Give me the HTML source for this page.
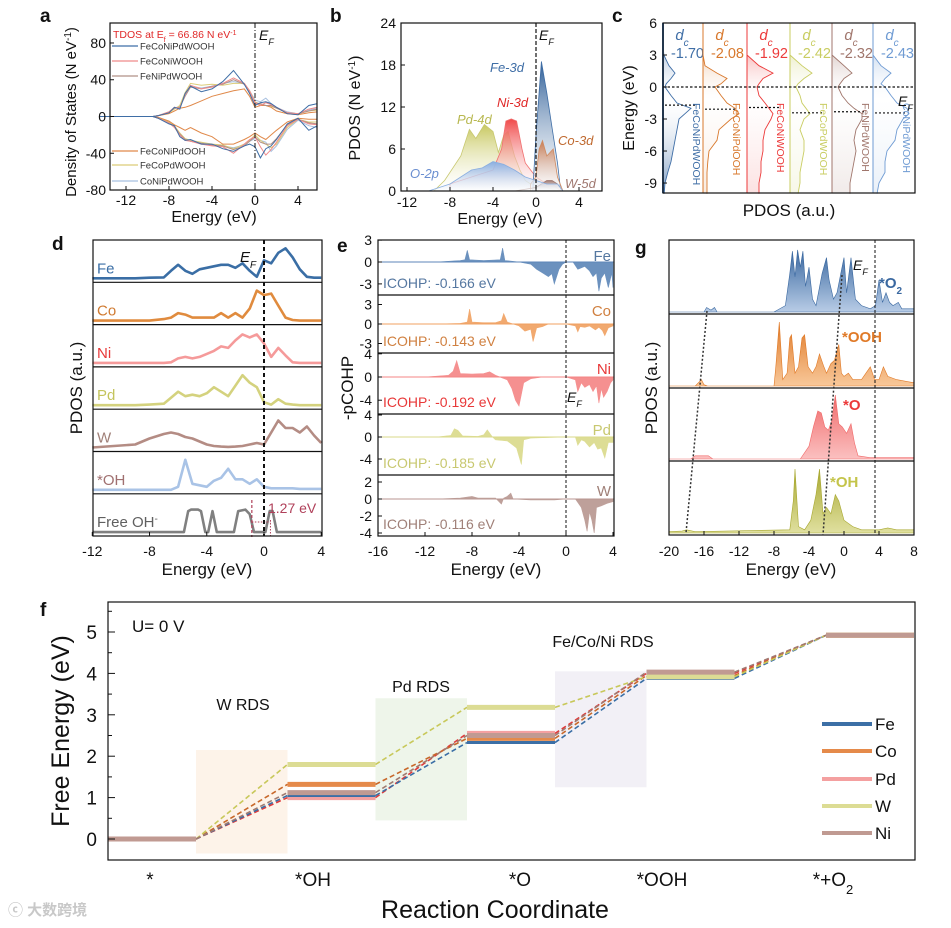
<!DOCTYPE html>
<html><head><meta charset="utf-8">
<style>
html,body{margin:0;padding:0;background:#fff;}
svg{display:block;font-family:"Liberation Sans","Noto Sans CJK SC",sans-serif;}
</style></head>
<body>
<svg id="fig" width="951" height="928" viewBox="0 0 951 928" xmlns="http://www.w3.org/2000/svg">
<defs id="defs"></defs>
</svg>
<script>
// ===== Panel f data =====
const fSteps = ["*", "*OH", "*O", "*OOH", "*+O2"];
const fSeries = ["Fe", "Co", "Pd", "W", "Ni"];
const fFe = [0, 1.05, 2.33, 3.88, 4.92];
const fCo = [0, 1.32, 2.43, 3.95, 4.92];
const fPd = [0, 1.00, 2.55, 4.00, 4.92];
const fW  = [0, 1.80, 3.18, 3.92, 4.92];
const fNi = [0, 1.12, 2.50, 4.03, 4.92];
const fTicks = [0, 1, 2, 3, 4, 5];
const fRDSLabels = ["W RDS", "Pd RDS", "Fe/Co/Ni RDS"];
const fRDSLow = [-0.35, 0.45, 1.25];
const fRDSHigh = [2.15, 3.4, 4.05];

// ===== Panel a data =====
const aE = [-14.5,-9.5,-9,-8,-7.5,-7,-6.5,-6,-5,-4,-3,-2,-1,-0.5,0,0.5,1,1.5,2,3,4,5,5.8];
const aNames = ["FeCoNiPdWOOH","FeCoNiWOOH","FeNiPdWOOH","FeCoNiPdOOH","FeCoPdWOOH","CoNiPdWOOH"];
const aUp0 = [0,0,1,4,10,8,25,33,27,30,38,50,35,25,12,15,16,14,10,3,2,12,14];
const aDn0 = [0,0,-2,-8,-10,-22,-26,-25,-30,-30,-35,-38,-32,-30,-33,-45,-35,-32,-25,-8,-2,-15,-10];
const aUp1 = [0,0,1,5,10,9,24,34,30,32,36,42,36,28,15,12,15,13,10,4,3,8,10];
const aDn1 = [0,0,-2,-7,-12,-20,-26,-27,-30,-32,-33,-40,-30,-25,-22,-33,-42,-36,-28,-10,-3,-8,-9];
const aUp2 = [0,0,1,5,9,10,22,32,30,33,35,40,35,27,15,14,12,12,9,4,3,6,8];
const aDn2 = [0,0,-2,-7,-11,-19,-25,-27,-29,-31,-32,-36,-32,-27,-22,-28,-30,-30,-24,-9,-3,-7,-8];
const aUp3 = [0,0,1,3,6,9,10,12,17,22,25,28,30,22,10,12,12,10,6,3,2,4,5];
const aDn3 = [0,0,-1,-5,-9,-12,-15,-12,-18,-22,-30,-30,-25,-22,-18,-22,-25,-20,-15,-6,-2,-3,-3];
const aUp4 = [0,0,1,4,8,12,26,36,34,35,34,36,36,28,16,13,12,11,9,4,3,6,7];
const aDn4 = [0,0,-2,-6,-10,-18,-24,-26,-28,-30,-31,-35,-30,-26,-20,-26,-30,-34,-30,-12,-3,-6,-6];
const aUp5 = [0,0,1,4,9,11,24,33,31,33,36,38,36,28,18,16,20,14,10,5,3,7,9];
const aDn5 = [0,0,-2,-6,-11,-20,-25,-27,-29,-31,-32,-34,-31,-27,-24,-26,-28,-38,-32,-14,-4,-10,-12];

// ===== Panel b data =====
const bFeE = [-0.3,0,0.5,1,1.5,2,2.3];
const bFeV = [0,8,18.5,14,9,4,0];
const bCoE = [-0.5,0,0.3,0.6,1,1.3,1.6,2,2.5];
const bCoV = [1,2,6,7.2,5,5.5,6,2,0];
const bNiE = [-8,-6,-4,-3.2,-2.8,-2.3,-1.8,-1.3,-1,-0.5,0,0.5,1,1.5,2.3];
const bNiV = [1,2,3,6,10,10.3,10,6,4,3,2,1.5,1,1,0];
const bPdE = [-9.5,-8.5,-7,-6.2,-5.6,-4.8,-4,-3.5,-3,-2.6,-2,-1.5,-1,-0.5,0,1,2];
const bPdV = [0,1.5,5,8.8,7.5,9.5,8.5,5.5,8,8.5,5,3,1.5,1,1,0.5,0];
const bOE = [-10,-8,-6,-5,-4,-3,-2,-1,0,1,2,2.5];
const bOV = [0,1,3,3.3,4.2,3.8,3,2,1.5,1,1,0];
const bWE = [-2,0,0.5,1,1.5,2,2.5];
const bWV = [0,0.5,1,1.5,1.5,1,0];

// ===== Panel c data =====
const cE = [6,4,3,2,1.3,0.8,0.3,0,-0.8,-1.5,-2,-2.5,-3,-4,-5,-6,-7,-8,-9,-10];
const cNames = ["FeCoNiPdWOOH","FeCoNiPdOOH","FeCoNiWOOH","FeCoPdWOOH","FeNiPdWOOH","CoNiPdWOOH"];
const cDc = [-1.70,-2.08,-1.92,-2.42,-2.32,-2.43];
const cV0 = [0,0,0.02,0.15,0.3,0.2,0.08,0.05,0.2,0.35,0.7,0.55,0.4,0.35,0.3,0.25,0.2,0.12,0.05,0.03];
const cV1 = [0,0,0,0.05,0.35,0.6,0.45,0.3,0.45,0.6,0.8,0.9,0.7,0.4,0.35,0.15,0.12,0.1,0.1,0.1];
const cV2 = [0,0,0,0.3,0.65,0.4,0.3,0.25,0.3,0.45,0.55,0.65,0.6,0.45,0.4,0.4,0.35,0.35,0.3,0.3];
const cV3 = [0,0,0,0.3,0.55,0.35,0.2,0.15,0.25,0.3,0.4,0.5,0.35,0.25,0.35,0.35,0.3,0.25,0.25,0.2];
const cV4 = [0,0,0,0.3,0.5,0.3,0.2,0.15,0.25,0.4,0.55,0.75,0.75,0.6,0.55,0.6,0.55,0.5,0.45,0.45];
const cV5 = [0,0,0,0.2,0.45,0.3,0.2,0.3,0.45,0.6,0.85,0.9,0.75,0.6,0.55,0.35,0.3,0.3,0.15,0.1];

// ===== Panel d data =====
const dE = [-12,-9,-8,-7,-6.5,-6,-5.5,-5,-4.5,-4,-3.5,-3,-2.5,-2,-1.5,-1,-0.5,0,0.5,1,1.5,2,2.5,3,3.5,4];
const dNames = ["Fe","Co","Ni","Pd","W","*OH"];
const dFe = [0,0,0.02,0.03,0.25,0.45,0.25,0.15,0.3,0.35,0.4,0.45,0.45,0.35,0.5,0.25,0.05,0.6,0.5,0.85,1.0,0.7,0.3,0.05,0.02,0.02];
const dCo = [0,0,0,0.05,0.1,0.25,0.2,0.1,0.1,0.1,0.1,0.25,0.1,0.25,0.1,0.4,1.0,0.85,0.9,0.5,0.1,0.02,0,0,0,0];
const dNi = [0,0,0,0,0.02,0.15,0.2,0.15,0.2,0.3,0.4,0.55,0.5,0.75,0.95,0.85,0.95,0.65,0.2,0.5,0.25,0.02,0,0,0,0];
const dPd = [0,0,0.02,0.05,0.25,0.45,0.3,0.35,0.3,0.4,0.6,0.45,0.3,0.65,1.0,0.75,0.6,0.1,0.02,0.2,0.05,0.02,0,0,0,0];
const dW  = [0,0.1,0.3,0.45,0.5,0.45,0.35,0.3,0.2,0.1,0.05,0.03,0.02,0.03,0.05,0.1,0.15,0.1,0.5,0.9,0.65,0.65,0.5,0.7,0.4,0.15];
const dOH = [0,0,0,0,0,0.1,1.0,0.2,0.15,0.1,0.3,0.4,0.7,0.35,0.35,0.2,0.35,0.1,0.05,0.05,0.05,0.05,0.03,0.03,0.03,0.03];
const dFreeE = [-12,-5.6,-5.3,-5.1,-4.6,-4.4,-4.1,-3.9,-3.6,-3.3,-3,-2.1,-1.8,-1.3,-1,-0.7,0.1,0.4,0.6,0.9,4];
const dFreeV = [0,0,0.7,0.75,0.75,0.7,0,0,0.7,0,0,0,0.7,0.75,0.6,0,0,0.7,0.7,0,0];

// ===== Panel e data =====
const eNames = ["Fe","Co","Ni","Pd","W"];
const eIcohp = ["-0.166","-0.143","-0.192","-0.185","-0.116"];
const eFeE = [-16,-11,-9,-8.6,-8.4,-8.2,-7,-5.6,-5.4,-5.2,-4,-3,-2.5,-2,-1.5,-1.2,-1,-0.6,-0.3,0,0.6,1,1.3,1.6,2,2.3,2.6,2.8,3,3.3,3.6,3.9,4];
const eFeV = [0,0,0.2,0.3,1.6,0.3,0.2,0.3,1.9,0.2,0,-0.3,-1,-1.5,-2,-1.6,-3,-1,-0.3,0,0,-1,-0.8,-0.6,-1.2,-2,-1.5,-4,-2.2,-1.5,-3.5,-1.5,-3.5];
const eCoE = [-16,-11,-9,-8.4,-8.2,-8,-7,-6,-5.5,-5.3,-5,-4.5,-4,-3.5,-3,-2.8,-2.5,-2,-1.5,0,0.8,1,1.2,1.6,2,2.5,2.8,3.1,3.3,3.6,4];
const eCoV = [0,0,0.1,0.3,2.3,0.3,0.2,0.2,0.5,1.6,0.3,0,-0.3,-1.1,-0.8,-2.7,-0.6,-0.4,0,0,-0.3,-1.2,-0.4,-0.5,-0.3,-0.9,-0.5,-1,-1.8,-0.6,-0.3];
const eNiE = [-16,-12,-10,-9.6,-9.3,-9,-8,-7,-6.5,-6,-5,-4.6,-4.3,-4,-3.6,-3,-2,0,0.8,1,1.3,1.6,2,2.3,2.6,2.8,3,3.2,3.5,3.8,4];
const eNiV = [0,0,0.3,1,2.8,0.6,0.5,0.6,0.9,0.3,-0.5,-2,-4,-5,-1,-0.3,0,0,-0.5,-2.5,-1,-1.8,-1.3,-2.5,-1.5,-4.5,-2,-3.5,-2.5,-1,-0.5];
const ePdE = [-16,-11,-9.8,-9.5,-9.2,-8.8,-7.5,-7,-6.7,-6.3,-6,-5,-4.5,-4.2,-4,-3.8,-3.6,-3,0,0.8,1,1.3,1.6,2,2.4,2.7,3,3.3,3.6,4];
const ePdV = [0,0,0.3,1.5,1.2,0.2,0.1,0.4,1.3,0.1,-0.5,-0.7,-1.5,-2,-3.5,-5,-0.5,-0.2,0,0,-1.5,-0.5,-0.8,-1.8,-1,-2.2,-2,-3.8,-1,-1];
const eWE = [-16,-11,-9,-8,-7.5,-6,-5.5,-5.3,-5,-4.7,-4.5,-3,-1,0,0.8,1.3,1.6,1.8,2,2.2,2.4,2.6,3,3.5,4];
const eWV = [0,0,0.1,0.3,0.1,0.1,-0.6,0.1,0.3,0.7,0,-0.1,-0.1,0,0,-1,-2.5,-3.8,-1.5,-2.5,-4,-1,-0.8,-0.5,-0.3];
const eTicksFe = [3,0,-3];
const eTicksCo = [3,0,-3];
const eTicksNi = [4,0,-4];
const eTicksPd = [4,0,-4];
const eTicksW = [2,0,-2,-4];

// ===== Panel g data =====
const gO2E = [-20,-16,-15.7,-15.2,-14.8,-14.5,-8,-6.7,-6.2,-5.9,-5.6,-5.3,-5,-4.7,-4.4,-4,-3.6,-3.2,-2.5,-2,-1.7,-1.2,-0.8,-0.3,0,0.3,0.8,1.3,2,3,3.6,4,4.4,4.8,5.2,5.6,6.2,6.6,7,8];
const gO2V = [0,0,0.07,0.03,0.07,0,0,0.1,0.6,0.95,0.55,0.97,0.7,0.95,0.4,0.7,0.2,0.1,0.6,0.85,0.5,0.2,0.3,0.65,0.85,0.3,0.85,0.2,0.1,0.05,0.1,0.5,0.15,0.3,0.15,0.1,0.15,0.05,0.05,0.05];
const gOOHE = [-20,-17,-16.3,-16,-15.6,-8,-7.8,-7.4,-7,-6.5,-6.2,-6,-5.6,-5.2,-4.8,-4.5,-4.1,-3.6,-3.2,-2.8,-2.3,-2,-1.5,-1.1,-0.6,-0.3,0,0.5,1,1.5,2,3,3.5,4,4.5,5,6,8];
const gOOHV = [0,0,0.1,0.02,0,0,0.3,1.0,0.1,0.2,0.75,0.8,0.2,0.3,0.75,0.8,0.3,0.2,0.3,0.5,0.3,0.2,0.35,0.4,0.65,0.2,0.15,0.2,0.1,0.1,0.1,0.3,0.1,0.1,0.3,0.15,0.1,0.05];
const gOE = [-20,-17.5,-17,-15.5,-15,-5,-4,-3.5,-3,-2.6,-2.2,-1.8,-1.4,-1,-0.6,-0.2,0.3,0.8,1.2,1.6,3,8];
const gOV = [0,0,0.05,0.05,0,0,0.2,0.5,0.75,0.72,0.5,0.45,0.6,1.0,0.55,0.5,0.4,0.55,0.25,0.05,0.02,0.02];
const gOHE = [-20,-18.5,-18,-17,-6.2,-5.8,-5.6,-5.2,-4.5,-3.8,-3.2,-2.8,-2.4,-2,-1.5,-1,-0.6,0,1,2,4,5,6,8];
const gOHV = [0.02,0.03,0.05,0.02,0.05,0.5,1.0,0.1,0.05,0.2,0.6,1.0,0.3,0.4,0.3,0.6,0.5,0.2,0.1,0.05,0.05,0.08,0.05,0.05];

// ===== helpers =====
const NS = "http://www.w3.org/2000/svg";
const svg = document.getElementById("fig");
const defs = document.getElementById("defs");
function mk(tag, attrs, name, parent) {
  const el = document.createElementNS(NS, tag);
  for (const k in attrs) el.setAttribute(k, attrs[k]);
  
  
  (parent || svg).appendChild(el);
  return el;
}
function txt(x, y, s, attrs, name) {
  const a = Object.assign({x: x, y: y, "font-size": 14, fill: "#111"}, attrs || {});
  const el = mk("text", a, name);
  el.textContent = s;
  return el;
}
function grad(id, c1, c2, o2, vertical) {
  const g = document.createElementNS(NS, "linearGradient");
  g.setAttribute("id", id);
  g.setAttribute("x1", "0"); g.setAttribute("y1", "0");
  g.setAttribute("x2", vertical ? "0" : "1"); g.setAttribute("y2", vertical ? "1" : "0");
  const s1 = document.createElementNS(NS, "stop"); s1.setAttribute("offset", "0"); s1.setAttribute("stop-color", c1);
  const s2 = document.createElementNS(NS, "stop"); s2.setAttribute("offset", "1"); s2.setAttribute("stop-color", c2); s2.setAttribute("stop-opacity", o2);
  g.appendChild(s1); g.appendChild(s2); defs.appendChild(g);
}
function pts(xs, ys, xf, yf) { return xs.map((e, i) => xf(e).toFixed(1) + "," + yf(ys[i]).toFixed(1)); }
function linePath(xs, ys, xf, yf) { return "M" + pts(xs, ys, xf, yf).join(" L"); }
function areaPath(xs, ys, xf, yf, y0) {
  return "M" + xf(xs[0]).toFixed(1) + "," + y0 + " L" + pts(xs, ys, xf, yf).join(" L") + " L" + xf(xs[xs.length-1]).toFixed(1) + "," + y0 + " Z";
}
function frame(x1, y1, x2, y2, name) {
  mk("rect", {x: x1, y: y1, width: x2-x1, height: y2-y1, fill: "none", stroke: "#111", "stroke-width": 1.2}, name);
}
function sub(el, s, shift, size) {
  const t = document.createElementNS(NS, "tspan");
  t.setAttribute("baseline-shift", shift); t.setAttribute("font-size", size); t.textContent = s; el.appendChild(t);
}

// ===== PANEL A =====
(function(){
  const xA = e => 255 + e*10.75;
  const yA = v => 116.5 - v*0.919;
  txt(40, 22, "a", {"font-size": 19, "font-weight": "bold"}, "panel-a-label");
  const cols = ["#3f6ea6", "#ef8b8b", "#b09088", "#e0894a", "#dccc78", "#a8c0e0"];
  const ups = [aUp0, aUp1, aUp2, aUp3, aUp4, aUp5];
  const dns = [aDn0, aDn1, aDn2, aDn3, aDn4, aDn5];
  for (let i = 5; i >= 0; i--) {
    mk("path", {d: linePath(aE, ups[i], xA, yA), fill: "none", stroke: cols[i], "stroke-width": 1}, "tdos-up-" + aNames[i].toLowerCase());
    mk("path", {d: linePath(aE, dns[i], xA, yA), fill: "none", stroke: cols[i], "stroke-width": 1}, "tdos-down-" + aNames[i].toLowerCase());
  }
  mk("line", {x1: xA(0), y1: 23, x2: xA(0), y2: 190, stroke: "#111", "stroke-dasharray": "5,2,1,2", "stroke-width": 1}, "fermi-line-a");
  frame(110, 23, 317, 190, "panel-a-frame");
  [-80,-40,0,40,80].forEach(v => {
    mk("line", {x1: 110, y1: yA(v), x2: 114, y2: yA(v), stroke: "#111"}, "y-tick-a");
    txt(106, yA(v)+5, String(v), {"font-size": 14, "text-anchor": "end"}, "y-tick-label-a");
  });
  [-12,-8,-4,0,4].forEach(v => {
    mk("line", {x1: xA(v), y1: 190, x2: xA(v), y2: 186, stroke: "#111"}, "x-tick-a");
    txt(xA(v), 205, String(v), {"font-size": 14, "text-anchor": "middle"}, "x-tick-label-a");
  });
  const yt = txt(0, 0, "Density of States (N eV", {"font-size": 15, "text-anchor": "middle", transform: "translate(76,112) rotate(-90)"}, "y-axis-title-a");
  sub(yt, "-1", "super", 10); const t2 = document.createElementNS(NS, "tspan"); t2.textContent = ")"; yt.appendChild(t2);
  txt(214, 222, "Energy (eV)", {"font-size": 16, "text-anchor": "middle"}, "x-axis-title-a");
  const tt = txt(113, 38, "TDOS at E", {"font-size": 10.5, fill: "#e02828"}, "tdos-annotation");
  sub(tt, "f", "sub", 7); const t3 = document.createElementNS(NS, "tspan"); t3.textContent = " = 66.86 N eV"; tt.appendChild(t3); sub(tt, "-1", "super", 7);
  const ef = txt(259, 40, "E", {"font-size": 14, "font-style": "italic"}, "fermi-label-a"); sub(ef, "F", "sub", 9);
  const ly = [46, 61, 76, 151, 165, 181];
  const lorder = [0, 1, 2, 3, 4, 5];
  lorder.forEach((i, k) => {
    mk("line", {x1: 112, y1: ly[k], x2: 138, y2: ly[k], stroke: cols[i], "stroke-width": 1.2}, "legend-line-a");
    txt(140, ly[k]+3.5, aNames[i], {"font-size": 9.5, fill: "#333"}, "legend-entry-a");
  });
})();

// ===== PANEL B =====
(function(){
  const xB = e => 536 + e*10.75;
  const yB = v => 191 - v*7.0;
  txt(330, 22, "b", {"font-size": 19, "font-weight": "bold"}, "panel-b-label");
  grad("gPd", "#c8c860", "#ffffff", 0.3, true);
  grad("gNi", "#f04848", "#ffffff", 0.3, true);
  grad("gFe", "#2f5f98", "#ffffff", 0.5, true);
  grad("gCo", "#c87a50", "#ffffff", 0.3, true);
  grad("gW", "#a07870", "#ffffff", 0.5, true);
  grad("gO", "#8aaee0", "#ffffff", 0.6, true);
  const series = [[bPdE,bPdV,"gPd","#c8c870","pdos-pd-4d"],[bNiE,bNiV,"gNi","#f07070","pdos-ni-3d"],[bFeE,bFeV,"gFe","#3f6ea6","pdos-fe-3d"],[bCoE,bCoV,"gCo","#d08a60","pdos-co-3d"],[bWE,bWV,"gW","#a07870","pdos-w-5d"],[bOE,bOV,"gO","#8aaee0","pdos-o-2p"]];
  series.forEach(s => {
    mk("path", {d: areaPath(s[0], s[1], xB, yB, 191), fill: "url(#" + s[2] + ")", stroke: s[3], "stroke-width": 0.8}, s[4]);
  });
  mk("line", {x1: xB(0), y1: 23, x2: xB(0), y2: 191, stroke: "#111", "stroke-dasharray": "4,2", "stroke-width": 1.2}, "fermi-line-b");
  frame(401, 23, 602, 191, "panel-b-frame");
  [0,6,12,18,24].forEach(v => {
    mk("line", {x1: 401, y1: yB(v), x2: 405, y2: yB(v), stroke: "#111"}, "y-tick-b");
    txt(396, yB(v)+5, String(v), {"font-size": 14, "text-anchor": "end"}, "y-tick-label-b");
  });
  [-12,-8,-4,0,4].forEach(v => {
    mk("line", {x1: xB(v), y1: 191, x2: xB(v), y2: 187, stroke: "#111"}, "x-tick-b");
    txt(xB(v), 207, String(v), {"font-size": 14, "text-anchor": "middle"}, "x-tick-label-b");
  });
  const yt = txt(0, 0, "PDOS (N eV", {"font-size": 16, "text-anchor": "middle", transform: "translate(360,108) rotate(-90)"}, "y-axis-title-b");
  sub(yt, "-1", "super", 10); const t2 = document.createElementNS(NS, "tspan"); t2.textContent = ")"; yt.appendChild(t2);
  txt(500, 224, "Energy (eV)", {"font-size": 16, "text-anchor": "middle"}, "x-axis-title-b");
  const ef = txt(539, 40, "E", {"font-size": 14, "font-style": "italic"}, "fermi-label-b"); sub(ef, "F", "sub", 9);
  txt(490, 72, "Fe-3d", {"font-size": 13, "font-style": "italic", fill: "#3f6ea6"}, "fe-3d-label");
  txt(497, 107, "Ni-3d", {"font-size": 13, "font-style": "italic", fill: "#e02828"}, "ni-3d-label");
  txt(457, 124, "Pd-4d", {"font-size": 13, "font-style": "italic", fill: "#b8b850"}, "pd-4d-label");
  txt(410, 178, "O-2p", {"font-size": 13, "font-style": "italic", fill: "#6a8ed0"}, "o-2p-label");
  txt(558, 145, "Co-3d", {"font-size": 13, "font-style": "italic", fill: "#c06a30"}, "co-3d-label");
  txt(565, 188, "W-5d", {"font-size": 13, "font-style": "italic", fill: "#a07870"}, "w-5d-label");
})();

// ===== PANEL C =====
(function(){
  const yC = e => 87 - e*10.67;
  const left = [663, 703, 747, 790, 832, 873];
  const cols = ["#3f6ea6", "#d8782c", "#ec3a3a", "#c9cd62", "#a0766c", "#6f9bd3"];
  const vals = [cV0, cV1, cV2, cV3, cV4, cV5];
  txt(612, 22, "c", {"font-size": 19, "font-weight": "bold"}, "panel-c-label");
  left.forEach((L, k) => {
    const xC = v => L + v*40;
    grad("gc" + k, cols[k], "#ffffff", 0, true);
    const g = defs.lastChild; const st = document.createElementNS(NS, "stop");
    st.setAttribute("offset", "0.45"); st.setAttribute("stop-color", "#ffffff"); st.setAttribute("stop-opacity", "0.1");
    g.insertBefore(st, g.lastChild);
    g.firstChild.setAttribute("stop-opacity", "0.85");
    g.lastChild.setAttribute("stop-color", cols[k]); g.lastChild.setAttribute("stop-opacity", k === 0 ? "0.7" : "0.15");
    const pathD = "M" + L + "," + yC(6) + " L" + cE.map((e, i) => xC(vals[k][i]).toFixed(1) + "," + yC(e).toFixed(1)).join(" L") + " L" + L + "," + yC(-10) + " Z";
    mk("path", {d: pathD, fill: "url(#gc" + k + ")", stroke: "none"}, "dos-fill-" + cNames[k].toLowerCase());
    mk("path", {d: "M" + cE.map((e, i) => xC(vals[k][i]).toFixed(1) + "," + yC(e).toFixed(1)).join(" L"), fill: "none", stroke: cols[k], "stroke-width": 0.9}, "dos-curve-" + cNames[k].toLowerCase());
    mk("line", {x1: L, y1: 23, x2: L, y2: 193, stroke: cols[k], "stroke-width": k === 0 ? 2 : 1}, "column-divider");
    mk("line", {x1: L+2, y1: yC(cDc[k]), x2: L+34, y2: yC(cDc[k]), stroke: "#111", "stroke-dasharray": "2,2", "stroke-width": 1.2}, "d-band-center-line");
    const dc = txt(L+19, 40, "d", {"font-size": 15, "font-style": "italic", fill: cols[k], "text-anchor": "middle"}, "d-band-center-symbol");
    sub(dc, "c", "sub", 10);
    txt(L+41, 58, cDc[k].toFixed(2), {"font-size": 14.5, fill: cols[k], "text-anchor": "end"}, "d-band-center-value");
    txt(0, 0, cNames[k], {"font-size": 10.5, fill: cols[k], transform: "translate(" + (L+30) + ",103) rotate(90)"}, "column-label");
  });
  mk("line", {x1: 663, y1: yC(0), x2: 915, y2: yC(0), stroke: "#111", "stroke-dasharray": "2.5,2", "stroke-width": 1.2}, "fermi-line-c");
  frame(663, 23, 915, 193, "panel-c-frame");
  [6,3,0,-3,-6,-9].forEach(v => {
    mk("line", {x1: 663, y1: yC(v), x2: 667, y2: yC(v), stroke: "#111"}, "y-tick-c");
    txt(657, yC(v)+5, String(v), {"font-size": 14, "text-anchor": "end"}, "y-tick-label-c");
  });
  txt(0, 0, "Energy (eV)", {"font-size": 16, "text-anchor": "middle", transform: "translate(634,108) rotate(-90)"}, "y-axis-title-c");
  txt(789, 216, "PDOS (a.u.)", {"font-size": 17, "text-anchor": "middle"}, "x-axis-title-c");
  const ef = txt(898, 106, "E", {"font-size": 14, "font-style": "italic"}, "fermi-label-c"); sub(ef, "F", "sub", 9);
})();

// ===== PANEL D =====
(function(){
  const xD = e => 264 + e*14.31;
  const rowH = 42.3;
  const vals = [dFe, dCo, dNi, dPd, dW, dOH];
  const cols = ["#3a6ea5", "#e08b3e", "#f59a9a", "#d4d27e", "#b48c84", "#a9c3e6"];
  const tcols = ["#3a6ea5", "#d07a30", "#e83838", "#c4c45c", "#a08078", "#a07070"];
  txt(52, 250, "d", {"font-size": 19, "font-weight": "bold"}, "panel-d-label");
  for (let r = 0; r < 6; r++) {
    const top = 240 + r*rowH, base = top + rowH - 4;
    const yD = v => base - v*30;
    mk("path", {d: linePath(dE, vals[r], xD, yD), fill: "none", stroke: cols[r], "stroke-width": 2.6, "stroke-linejoin": "round"}, "pdos-curve-" + dNames[r].toLowerCase().replace("*", "star-"));
    txt(97, top + rowH - 9, dNames[r], {"font-size": 15, fill: tcols[r]}, "row-label-d");
    if (r > 0) mk("line", {x1: 93, y1: top, x2: 322, y2: top, stroke: "#111", "stroke-width": 1.2}, "row-divider-d");
  }
  const topF = 240 + 6*rowH, baseF = topF + rowH - 4;
  const yF = v => baseF - v*30;
  mk("path", {d: linePath(dFreeE, dFreeV, xD, yF), fill: "none", stroke: "#808080", "stroke-width": 2.6, "stroke-linejoin": "round"}, "pdos-curve-free-oh");
  mk("line", {x1: 93, y1: topF, x2: 322, y2: topF, stroke: "#111", "stroke-width": 1.2}, "row-divider-d");
  const fo = txt(97, topF + rowH - 9, "Free OH", {"font-size": 15, fill: "#606060"}, "row-label-d"); sub(fo, "-", "super", 10);
  mk("line", {x1: xD(-0.85), y1: 500, x2: xD(-0.85), y2: 537, stroke: "#b0405a", "stroke-dasharray": "3,2", "stroke-width": 1.2}, "homo-line-oh");
  mk("line", {x1: xD(0.45), y1: 520, x2: xD(0.45), y2: 537, stroke: "#b0405a", "stroke-dasharray": "1.5,1.5", "stroke-width": 1}, "homo-line-free-oh");
  mk("line", {x1: xD(-0.85), y1: 522, x2: xD(0.45), y2: 522, stroke: "#b0405a", "stroke-dasharray": "1.5,1.5", "stroke-width": 1}, "shift-arrow");
  txt(268, 513, "1.27 eV", {"font-size": 14, fill: "#b0405a"}, "shift-label");
  mk("line", {x1: xD(0), y1: 240, x2: xD(0), y2: 536, stroke: "#111", "stroke-dasharray": "4,3", "stroke-width": 2}, "fermi-line-d");
  const ef = txt(240, 262, "E", {"font-size": 15, "font-style": "italic"}, "fermi-label-d"); sub(ef, "F", "sub", 10);
  frame(93, 240, 322, 536, "panel-d-frame");
  [-12,-8,-4,0,4].forEach(v => {
    txt(xD(v), 556, String(v), {"font-size": 14, "text-anchor": "middle"}, "x-tick-label-d");
    mk("line", {x1: xD(v), y1: 536, x2: xD(v), y2: 532, stroke: "#111"}, "x-tick-d");
  });
  txt(207, 575, "Energy (eV)", {"font-size": 17, "text-anchor": "middle"}, "x-axis-title-d");
  txt(0, 0, "PDOS (a.u.)", {"font-size": 17, "text-anchor": "middle", transform: "translate(82,388) rotate(-90)"}, "y-axis-title-d");
})();

// ===== PANEL E =====
(function(){
  const xE = e => 566 + e*11.75;
  const bounds = [240, 295, 353, 414, 475, 536];
  const zeros = [262, 324, 377, 437, 499];
  const scl = [7.3, 6.5, 5.8, 5.5, 8.5];
  const Es = [eFeE, eCoE, eNiE, ePdE, eWE];
  const Vs = [eFeV, eCoV, eNiV, ePdV, eWV];
  const ticks = [eTicksFe, eTicksCo, eTicksNi, eTicksPd, eTicksW];
  const fills = ["#5c86b8", "#f0a060", "#f48484", "#dada8a", "#b89690"];
  const tcols = ["#5577a0", "#d08040", "#e83838", "#c8c870", "#a08078"];
  txt(337, 252, "e", {"font-size": 19, "font-weight": "bold"}, "panel-e-label");
  for (let r = 0; r < 5; r++) {
    const y0 = zeros[r];
    const yE = v => y0 - v*scl[r];
    mk("path", {d: areaPath(Es[r], Vs[r], xE, yE, y0), fill: fills[r], stroke: fills[r], "stroke-width": 0.6, opacity: 0.9}, "cohp-area-" + eNames[r].toLowerCase());
    mk("line", {x1: 378, y1: y0, x2: 614, y2: y0, stroke: fills[r], "stroke-width": 1}, "zero-line-e");
    ticks[r].forEach(t => {
      txt(372, yE(t)+5, String(t), {"font-size": 14, "text-anchor": "end"}, "y-tick-label-e");
      mk("line", {x1: 378, y1: yE(t), x2: 382, y2: yE(t), stroke: "#111"}, "y-tick-e");
    });
    txt(611, bounds[r] + 21, eNames[r], {"font-size": 15, fill: tcols[r], "text-anchor": "end"}, "row-label-e");
    txt(383, bounds[r+1] - 7, "ICOHP: " + eIcohp[r] + " eV", {"font-size": 14, fill: tcols[r]}, "icohp-label");
    if (r > 0) mk("line", {x1: 378, y1: bounds[r], x2: 614, y2: bounds[r], stroke: "#111", "stroke-width": 1.2}, "row-divider-e");
  }
  mk("line", {x1: xE(0), y1: 240, x2: xE(0), y2: 536, stroke: "#111", "stroke-dasharray": "3,2", "stroke-width": 1}, "fermi-line-e");
  const ef = txt(567, 402, "E", {"font-size": 14, "font-style": "italic"}, "fermi-label-e"); sub(ef, "F", "sub", 9);
  frame(378, 240, 614, 536, "panel-e-frame");
  [-16,-12,-8,-4,0,4].forEach(v => {
    txt(xE(v), 556, String(v), {"font-size": 14, "text-anchor": "middle"}, "x-tick-label-e");
    mk("line", {x1: xE(v), y1: 536, x2: xE(v), y2: 532, stroke: "#111"}, "x-tick-e");
  });
  txt(496, 575, "Energy (eV)", {"font-size": 17, "text-anchor": "middle"}, "x-axis-title-e");
  txt(0, 0, "-pCOHP", {"font-size": 17, "text-anchor": "middle", transform: "translate(353,388) rotate(-90)"}, "y-axis-title-e");
})();

// ===== PANEL G =====
(function(){
  const xG = e => 844 + e*8.75;
  const bounds = [240, 314, 388, 461, 535];
  const Es = [gO2E, gOOHE, gOE, gOHE];
  const Vs = [gO2V, gOOHV, gOV, gOHV];
  const c1 = ["#3a68a0", "#e07a28", "#f06a6a", "#a8a830"];
  const c2 = ["#b8cce6", "#f8c89a", "#fbc0c0", "#e0e0a0"];
  const names = ["star-o2", "star-ooh", "star-o", "star-oh"];
  txt(635, 254, "g", {"font-size": 19, "font-weight": "bold"}, "panel-g-label");
  for (let r = 0; r < 4; r++) {
    const base = bounds[r+1] - 2;
    const yG = v => base - v*64;
    grad("gg" + r, c1[r], c2[r], 1, true);
    mk("path", {d: areaPath(Es[r], Vs[r], xG, yG, base), fill: "url(#gg" + r + ")", stroke: c1[r], "stroke-width": 0.6}, "pdos-area-" + names[r]);
    if (r > 0) mk("line", {x1: 669, y1: bounds[r], x2: 914, y2: bounds[r], stroke: "#111", "stroke-width": 1.2}, "row-divider-g");
  }
  mk("line", {x1: 875, y1: 240, x2: 875, y2: 535, stroke: "#111", "stroke-dasharray": "3,2", "stroke-width": 1}, "fermi-line-g");
  mk("line", {x1: 707, y1: 311, x2: 686, y2: 533, stroke: "#333", "stroke-dasharray": "2,2", "stroke-width": 1.5}, "shift-guide-low");
  mk("line", {x1: 842, y1: 275, x2: 823, y2: 535, stroke: "#333", "stroke-dasharray": "2,2", "stroke-width": 1.5}, "shift-guide-high");
  const ef = txt(853, 270, "E", {"font-size": 14, "font-style": "italic"}, "fermi-label-g"); sub(ef, "F", "sub", 9);
  const o2 = txt(879, 288, "*O", {"font-size": 15, "font-weight": "bold", fill: "#3a68a0"}, "label-star-o2"); sub(o2, "2", "sub", 10);
  txt(842, 342, "*OOH", {"font-size": 15, "font-weight": "bold", fill: "#e07a28"}, "label-star-ooh");
  txt(843, 410, "*O", {"font-size": 15, "font-weight": "bold", fill: "#ec3a3a"}, "label-star-o");
  txt(830, 487, "*OH", {"font-size": 15, "font-weight": "bold", fill: "#c4c44a"}, "label-star-oh");
  frame(669, 240, 914, 535, "panel-g-frame");
  [-20,-16,-12,-8,-4,0,4,8].forEach(v => {
    txt(xG(v), 556, String(v), {"font-size": 14, "text-anchor": "middle"}, "x-tick-label-g");
    mk("line", {x1: xG(v), y1: 535, x2: xG(v), y2: 531, stroke: "#111"}, "x-tick-g");
  });
  txt(791, 575, "Energy (eV)", {"font-size": 17, "text-anchor": "middle"}, "x-axis-title-g");
  txt(0, 0, "PDOS (a.u.)", {"font-size": 17, "text-anchor": "middle", transform: "translate(657,388) rotate(-90)"}, "y-axis-title-g");
})();

// ===== PANEL F =====
(function(){
  const xC = i => 152 + i*179.5;
  const half = 44;
  const yF = v => 839 - v*41.4;
  txt(40, 616, "f", {"font-size": 19, "font-weight": "bold"}, "panel-f-label");
  const rdsFill = ["#fdf3e9", "#eef5ea", "#f2f0f6"];
  const rdsLabelX = [243, 421, 603];
  const rdsLabelY = [710, 692, 647];
  for (let k = 0; k < 3; k++) {
    const x1 = xC(k) + half, x2 = xC(k+1) - half;
    mk("rect", {x: x1, y: yF(fRDSHigh[k]), width: x2 - x1, height: yF(fRDSLow[k]) - yF(fRDSHigh[k]), fill: rdsFill[k]}, "rds-region");
    txt(rdsLabelX[k], rdsLabelY[k], fRDSLabels[k], {"font-size": 16, "text-anchor": "middle"}, "rds-label");
  }
  const data = {Fe: fFe, Co: fCo, Pd: fPd, W: fW, Ni: fNi};
  const lvlCol = {Fe: "#3c6fa6", Co: "#e58a4a", Pd: "#f4a0a0", W: "#dcdc94", Ni: "#c09a92"};
  const dashCol = {Fe: "#3a6ea5", Co: "#c8682a", Pd: "#e03a3a", W: "#c8c85a", Ni: "#a07a70"};
  const order = ["Pd", "Fe", "Co", "W", "Ni"];
  order.forEach(s => {
    const v = data[s];
    for (let i = 0; i < v.length - 1; i++) {
      mk("line", {x1: xC(i)+half, y1: yF(v[i]), x2: xC(i+1)-half, y2: yF(v[i+1]), stroke: dashCol[s], "stroke-width": 1.6, "stroke-dasharray": "5,3"}, "connector-" + s.toLowerCase());
    }
  });
  order.forEach(s => {
    const v = data[s];
    for (let i = 0; i < v.length; i++) {
      mk("line", {x1: xC(i)-half, y1: yF(v[i]), x2: xC(i)+half, y2: yF(v[i]), stroke: lvlCol[s], "stroke-width": s === "Fe" ? 3 : 5}, "level-" + s.toLowerCase() + "-" + i);
    }
  });
  frame(108, 602, 915, 860, "panel-f-frame");
  fTicks.forEach(v => {
    mk("line", {x1: 108, y1: yF(v), x2: 115, y2: yF(v), stroke: "#111"}, "y-tick-f");
    mk("line", {x1: 108, y1: yF(v+0.5), x2: 112, y2: yF(v+0.5), stroke: "#111"}, "y-minor-tick-f");
    txt(97, yF(v)+7, String(v), {"font-size": 19, "text-anchor": "end"}, "y-tick-label-f");
  });
  fSteps.forEach((s, i) => {
    const lx = [150, 313, 520, 662, 833][i];
    if (s === "*+O2") {
      const t = txt(lx, 886, "*+O", {"font-size": 19, "text-anchor": "middle"}, "x-category-label-f");
      sub(t, "2", "sub", 13);
    } else {
      txt(lx, 886, s, {"font-size": 19, "text-anchor": "middle"}, "x-category-label-f");
    }
  });
  txt(495, 918, "Reaction Coordinate", {"font-size": 25, "text-anchor": "middle"}, "x-axis-title-f");
  txt(0, 0, "Free Energy (eV)", {"font-size": 25, "text-anchor": "middle", transform: "translate(69,731) rotate(-90)"}, "y-axis-title-f");
  txt(132, 632, "U= 0 V", {"font-size": 17}, "potential-label");
  const ly = [724, 751, 779, 806, 833];
  fSeries.forEach((s, k) => {
    mk("line", {x1: 822, y1: ly[k], x2: 872, y2: ly[k], stroke: lvlCol[s], "stroke-width": 4}, "legend-line-" + s.toLowerCase());
    txt(875, ly[k]+6, s, {"font-size": 17}, "legend-entry-" + s.toLowerCase());
  });
  txt(8, 915, "ⓒ 大数跨境", {"font-size": 15, fill: "#c8c8c8", "font-weight": "bold"}, "watermark");
})();
</script>
</body></html>
